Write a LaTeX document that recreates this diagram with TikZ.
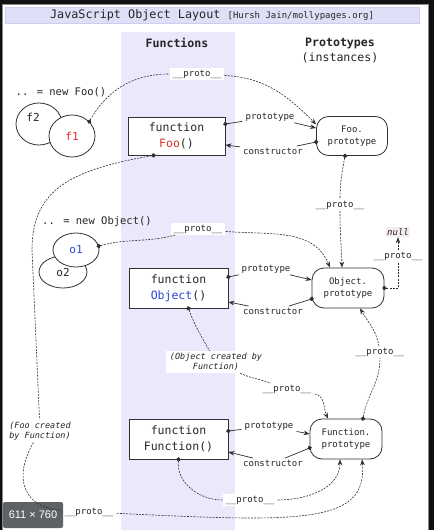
\documentclass[tikz,border=0pt]{standalone}
\usepackage{fontspec}
\setmainfont{DejaVu Sans Mono}[BoldFont={DejaVu Sans Mono Bold},ItalicFont={DejaVu Sans Mono Oblique},BoldItalicFont={DejaVu Sans Mono Bold Oblique}]
\newfontfamily\badgefont{Liberation Sans}
\usetikzlibrary{arrows.meta,shapes.geometric}
\definecolor{page}{HTML}{101010}
\definecolor{frame}{HTML}{8A8A8A}
\definecolor{column}{HTML}{E9E9FB}
\definecolor{band}{HTML}{DFDFF7}
\definecolor{bandedge}{HTML}{CDCDEE}
\definecolor{jsred}{HTML}{E0302A}
\definecolor{jsblue}{HTML}{2B45D6}
\definecolor{nullbg}{HTML}{F6ECEC}
\definecolor{wire}{HTML}{303030}
\definecolor{ink}{HTML}{262626}
\definecolor{badge}{HTML}{5E6166}
\newcommand{\fnsize}{\fontsize{11.5}{16}\selectfont}
\newcommand{\hdsize}{\fontsize{11.6}{15}\selectfont}
\newcommand{\lblsize}{\fontsize{9}{12}\selectfont}
\newcommand{\notesize}{\fontsize{8.5}{10.5}\selectfont\itshape}
\newcommand{\protolbl}{\_\_proto\_\_}
\begin{document}
\begin{tikzpicture}[x=1pt,y=1pt,text=ink,
    fn/.style={draw=wire,line width=0.8pt,fill=white,minimum width=97pt,minimum height=38pt,align=center,font=\fnsize,inner sep=0pt},
    protobox/.style={draw=wire,line width=0.8pt,fill=white,rounded corners=12pt,minimum width=71pt,minimum height=39pt,align=center,font=\fontsize{9}{12}\selectfont,inner sep=0pt},
    inst/.style={ellipse,draw=wire,line width=0.8pt,fill=white,inner sep=0pt,font=\fontsize{11}{13}\selectfont},
    lbl/.style={fill=white,inner xsep=3pt,inner ysep=1.5pt,font=\lblsize},
    note/.style={fill=white,inner xsep=4pt,inner ysep=2pt,align=center,font=\notesize},
    link/.style={draw=wire,line width=0.7pt},
    protolink/.style={draw=wire,line width=0.6pt,dash pattern=on 2pt off 1.2pt},
    tail/.style={{Circle[length=4.4pt]}-,shorten <=-2.2pt},
    head/.style={-{Stealth[length=6pt,width=4.6pt]}}]
  \useasboundingbox (0,0) rectangle (434,-530);
  \fill[page] (0,0) rectangle (434,-530);
  \filldraw[fill=white,draw=frame,line width=0.8pt] (2.5,-4) rectangle (428.5,-534);
  \fill[column] (120.5,-32) rectangle (235,-530);
  \draw
    (212,-15) node[fill=band,draw=bandedge,minimum width=414pt,minimum height=16pt,inner sep=0pt] (title)
      {{\fontsize{11.8}{14}\selectfont JavaScript Object Layout }{\fontsize{9}{11}\selectfont[Hursh Jain/mollypages.org]}}
    (177,-43) node[font=\hdsize\bfseries] (fnhead) {Functions}
    (340,-50.5) node[font=\hdsize,align=center] (pthead) {\textbf{Prototypes}\\(instances)}
    (61,-92) node[font=\fontsize{10.5}{12}\selectfont] (newfoo) {.. = new Foo()}
    (39,-124) node[inst,minimum width=46pt,minimum height=42pt] (f2) {\raisebox{3pt}[0pt][0pt]{\makebox[0pt]{\hspace{-12pt}f2}}}
    (72,-136) node[inst,minimum width=46pt,minimum height=42pt,text=jsred] (f1) {f1}
    (176.5,-136) node[fn] (foofn) {function\\\textcolor{jsred}{Foo}()}
    (352,-136) node[protobox] (foopt) {Foo.\\prototype}
    (97,-222) node[font=\fontsize{10.5}{12}\selectfont] (newobj) {.. = new Object()}
    (63,-272) node[inst,minimum width=48pt,minimum height=32pt] (o2) {o2}
    (76,-250) node[inst,minimum width=46pt,minimum height=34pt,text=jsblue] (o1) {o1}
    (178.5,-288) node[fn,minimum width=99pt,minimum height=40pt] (objfn) {function\\\textcolor{jsblue}{Object}()}
    (348,-288) node[protobox,minimum width=72pt,minimum height=40pt] (objpt) {Object.\\prototype}
    (398,-232) node[fill=nullbg,inner sep=1.5pt,font=\lblsize\itshape] (nullv) {null}
    (178.5,-439) node[fn,minimum width=99pt,minimum height=40pt] (funfn) {function\\Function()}
    (346,-439) node[protobox,minimum width=72pt,minimum height=40pt] (funpt) {Function.\\prototype}
    (197,-74) node[lbl] (pfoo) {\protolbl}
    (270,-117) node[lbl] (ptfoo) {prototype}
    (273,-151) node[lbl] (ctfoo) {constructor}
    (40,-431) node[note] (fooby) {(Foo created\\by Function)}
    (89,-512) node[lbl] (pfoofun) {\protolbl}
    (198,-229) node[lbl] (po1) {\protolbl}
    (340,-205) node[lbl] (pfooobj) {\protolbl}
    (266,-269) node[lbl] (ptobj) {prototype}
    (273,-311) node[lbl] (ctobj) {constructor}
    (398,-256) node[lbl] (pnull) {\protolbl}
    (216,-362) node[note] (objby) {(Object created by\\Function)}
    (287,-389) node[lbl] (pobjfun) {\protolbl}
    (380,-352) node[lbl] (pfunobj) {\protolbl}
    (269,-426) node[lbl] (ptfun) {prototype}
    (273,-463) node[lbl] (ctfun) {constructor}
    (250,-500) node[lbl] (pfun) {\protolbl}
    (33,-515) node[fill=badge,text=white,rounded corners=2pt,minimum width=60pt,minimum height=26pt,inner sep=0pt,font=\badgefont\fontsize{11}{13}\selectfont] (badge) {611 × 760};
  \begin{scope}[link]
    \draw[tail] ([yshift=12pt]foofn.east) -- (ptfoo);
    \draw[head] (ptfoo) -- ([yshift=8pt]foopt.west);
    \draw[tail] ([yshift=-6pt]foopt.west) -- (ctfoo);
    \draw[head] (ctfoo) -- ([yshift=-9pt]foofn.east);
    \draw[tail] ([yshift=11pt]objfn.east) -- (ptobj);
    \draw[head] (ptobj) -- ([yshift=8pt]objpt.west);
    \draw[tail] ([yshift=-11pt]objpt.west) -- (ctobj);
    \draw[head] (ctobj) -- ([yshift=-14pt]objfn.east);
    \draw[tail] ([yshift=8pt]funfn.east) -- (ptfun);
    \draw[head] (ptfun) -- ([yshift=5pt]funpt.west);
    \draw[tail] ([yshift=-9pt]funpt.west) -- (ctfun);
    \draw[head] (ctfun) -- ([yshift=-13pt]funfn.east);
  \end{scope}
  \begin{scope}[protolink]
    \draw[tail] (f1.40) to[out=60,in=180] (pfoo);
    \draw[head] (pfoo) to[out=-3,in=135] (foopt.162);
    \draw[tail] ([xshift=-23pt]foofn.south) .. controls (70,-170) and (32,-190) .. (32,-250) -- (fooby);
    \draw (fooby) .. controls (12,-480) and (25,-508) .. (pfoofun);
    \draw[head] (pfoofun) .. controls (300,-522) and (368,-525) .. ([xshift=16pt]funpt.south);
    \draw[tail] (o1.10) to[out=15,in=195] (po1);
    \draw[head] (po1) to[out=-5,in=112] ([xshift=-18pt]objpt.north);
    \draw[tail] ([xshift=-7pt]foopt.south) to[out=-100,in=90] (pfooobj);
    \draw[head] (pfooobj) to[out=-90,in=92] ([xshift=-6pt]objpt.north);
    \draw[tail] (objpt.east) -| (pnull);
    \draw[head] (pnull) -- (nullv);
    \draw[tail] ([xshift=10pt]objfn.south) to[out=-70,in=120] (objby);
    \draw (objby) to[out=-25,in=160] (pobjfun);
    \draw[head] (pobjfun) to[out=-10,in=115] ([xshift=-18pt]funpt.north);
    \draw[tail] ([xshift=17pt]funpt.north) to[out=80,in=-90] (pfunobj);
    \draw[head] (pfunobj) to[out=100,in=-60] ([xshift=12pt]objpt.south);
    \draw[tail] (funfn.south) to[out=-95,in=180] (pfun);
    \draw[head] (pfun) to[out=0,in=-90] ([xshift=-6pt]funpt.south);
  \end{scope}
\end{tikzpicture}
\end{document}
